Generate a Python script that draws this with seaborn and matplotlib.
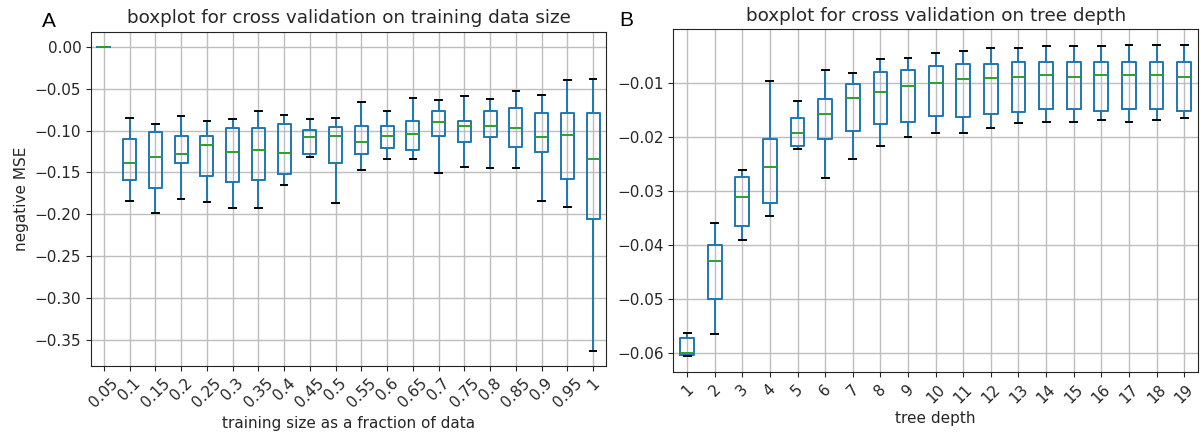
import numpy as np
import pandas as pd
import matplotlib
matplotlib.use("Agg")
import matplotlib.pyplot as plt
import seaborn as sns

# Five-number summaries (min, Q1, median, Q3, max) of cross-validated negative MSE

# Panel A: training data size as a fraction of the data
size_labels = ["0.05", "0.1", "0.15", "0.2", "0.25", "0.3", "0.35", "0.4", "0.45", "0.5",
               "0.55", "0.6", "0.65", "0.7", "0.75", "0.8", "0.85", "0.9", "0.95", "1"]
size_min = [0.0, -0.184, -0.198, -0.182, -0.185, -0.192, -0.192, -0.165, -0.132, -0.186,
            -0.147, -0.134, -0.134, -0.151, -0.143, -0.145, -0.145, -0.184, -0.191, -0.363]
size_q1 = [0.0, -0.159, -0.169, -0.139, -0.154, -0.161, -0.159, -0.152, -0.128, -0.139,
           -0.128, -0.121, -0.123, -0.106, -0.114, -0.108, -0.119, -0.125, -0.158, -0.205]
size_med = [0.0, -0.139, -0.132, -0.128, -0.117, -0.125, -0.123, -0.127, -0.108, -0.106,
            -0.114, -0.106, -0.104, -0.090, -0.095, -0.095, -0.097, -0.108, -0.105, -0.134]
size_q3 = [0.0, -0.110, -0.102, -0.106, -0.106, -0.097, -0.097, -0.092, -0.099, -0.096,
           -0.094, -0.094, -0.088, -0.077, -0.088, -0.077, -0.073, -0.079, -0.079, -0.079]
size_max = [0.0, -0.0845, -0.092, -0.0825, -0.088, -0.086, -0.0765, -0.081, -0.086, -0.0845,
            -0.066, -0.077, -0.0605, -0.064, -0.0585, -0.0625, -0.053, -0.057, -0.040, -0.0387]

# Panel B: maximum tree depth
depth_labels = [str(d) for d in range(1, 20)]
depth_min = [-0.0606, -0.0565, -0.0392, -0.0346, -0.0222, -0.0276, -0.0242, -0.0218, -0.0201, -0.0193,
             -0.0193, -0.0183, -0.0175, -0.0172, -0.0172, -0.0169, -0.0172, -0.0169, -0.0166]
depth_q1 = [-0.0604, -0.0500, -0.0365, -0.0322, -0.0218, -0.0204, -0.0190, -0.0176, -0.0172, -0.0161,
            -0.0163, -0.0158, -0.0155, -0.0149, -0.0149, -0.0152, -0.0149, -0.0149, -0.0152]
depth_med = [-0.0600, -0.0430, -0.0312, -0.0256, -0.0193, -0.0158, -0.0129, -0.0117, -0.0106, -0.0100,
             -0.0094, -0.0091, -0.0089, -0.0086, -0.0089, -0.0086, -0.0086, -0.0086, -0.0089]
depth_q3 = [-0.0573, -0.0400, -0.0274, -0.0204, -0.0166, -0.0131, -0.0103, -0.0080, -0.0077, -0.0069,
            -0.0066, -0.0066, -0.0062, -0.0062, -0.0062, -0.0061, -0.0061, -0.0061, -0.0061]
depth_max = [-0.0563, -0.0360, -0.0261, -0.0097, -0.0134, -0.0077, -0.0082, -0.0056, -0.0054, -0.0045,
             -0.0042, -0.0036, -0.0036, -0.0033, -0.0033, -0.0033, -0.0030, -0.0030, -0.0030]


def long_frame(labels, *cols):
    rows = []
    for i, lab in enumerate(labels):
        for col in cols:
            rows.append((lab, col[i]))
    return pd.DataFrame(rows, columns=["group", "score"])


df_size = long_frame(size_labels, size_min, size_q1, size_med, size_q3, size_max)
df_depth = long_frame(depth_labels, depth_min, depth_q1, depth_med, depth_q3, depth_max)

BLUE = "#1f77b4"
GREEN = "#2ca02c"
TEXT = "#262626"

plt.rcParams.update({
    "font.family": ["DejaVu Sans"],
    "axes.edgecolor": "#222222",
    "text.color": TEXT,
    "axes.labelcolor": TEXT,
    "xtick.color": TEXT,
    "ytick.color": TEXT,
})

fig = plt.figure(figsize=(12.01, 4.38), dpi=100)
ax_a = fig.add_axes([0.0758, 0.1644, 0.4288, 0.7632])
ax_b = fig.add_axes([0.5606, 0.1514, 0.4369, 0.7817])

box_kws = dict(
    fill=False,
    whis=(0, 100),
    width=0.5,
    linewidth=1.4,
    showfliers=False,
    boxprops=dict(color=BLUE),
    whiskerprops=dict(color=BLUE),
    capprops=dict(color="black"),
    medianprops=dict(color=GREEN),
)

sns.boxplot(data=df_size, x="group", y="score", order=size_labels, ax=ax_a, **box_kws)
sns.boxplot(data=df_depth, x="group", y="score", order=depth_labels, ax=ax_b, **box_kws)

for ax in (ax_a, ax_b):
    ax.grid(True, color="#bdbdbd", linewidth=1.0)
    ax.set_axisbelow(True)
    ax.tick_params(axis="both", labelsize=11)
    for lab in ax.get_xticklabels():
        lab.set_rotation(45)
        lab.set_ha("center")
    ax.margins(y=0.05)

ax_a.set_title("boxplot for cross validation on training data size", fontsize=13.2)
ax_a.set_xlabel("training size as a fraction of data", fontsize=11)
ax_a.set_ylabel("negative MSE", fontsize=11)
ax_a.set_yticks([0.0, -0.05, -0.10, -0.15, -0.20, -0.25, -0.30, -0.35])

ax_b.set_title("boxplot for cross validation on tree depth", fontsize=13.2)
ax_b.set_xlabel("tree depth", fontsize=11)
ax_b.set_ylabel("")
ax_b.set_yticks([-0.01, -0.02, -0.03, -0.04, -0.05, -0.06])

fig.text(0.035, 0.938, "A", fontsize=15, family=["Liberation Sans"], color="black")
fig.text(0.516, 0.941, "B", fontsize=15, family=["Liberation Sans"], color="black")

fig.savefig("out.png", dpi=100)
